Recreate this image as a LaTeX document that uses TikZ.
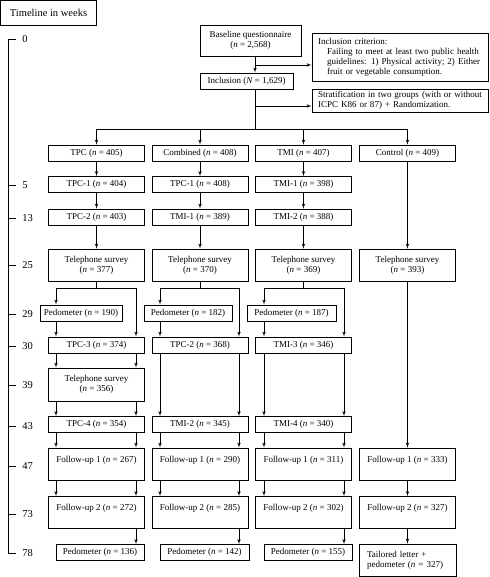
\documentclass[tikz,border=0pt]{standalone}
\usepackage{fontspec}
\setmainfont{Liberation Serif}
\usetikzlibrary{arrows,calc}
\newcommand{\nn}[1]{(\textit{n} = #1)}
\tikzset{
    block/.style = {draw, rectangle, inner sep=0pt,
        minimum height=16pt,
        minimum width=96pt, align=center, font=\fontsize{9}{10}\selectfont},
    tall/.style = {block, minimum height=32pt},
    note/.style = {draw, rectangle, inner sep=0pt, align=left, font=\fontsize{9}{10}\selectfont},
    week/.style = {anchor=west, inner sep=0pt, font=\fontsize{10.5}{12}\selectfont}
}

\begin{document}
\begin{tikzpicture}[>=latex', x=1pt, y=-1pt, line width=0.7pt]
        \useasboundingbox (0,0) rectangle (489,577);
        % timeline
        \node [block, minimum width=96pt, minimum height=25pt, font=\fontsize{10.5}{12}\selectfont] (title) at (48.5,13) {Timeline in weeks};
        \draw (16,39) -- (8,39) -- (8,553) -- (16,553);
        \draw (8,185) -- (16,185);  \draw (8,218) -- (16,218);  \draw (8,265) -- (16,265);
        \draw (8,314) -- (16,314);  \draw (8,346) -- (16,346);  \draw (8,385) -- (16,385);
        \draw (8,426) -- (16,426);  \draw (8,466) -- (16,466);  \draw (8,514) -- (16,514);
        \node [week] (w0) at (22,39) {0};
        \node [week] (w5) at (22,185) {5};
        \node [week] (w13) at (22,218) {13};
        \node [week] (w25) at (22,265) {25};
        \node [week] (w29) at (22,314) {29};
        \node [week] (w30) at (22,346) {30};
        \node [week] (w39) at (22,385) {39};
        \node [week] (w43) at (22,426) {43};
        \node [week] (w47) at (22,466) {47};
        \node [week] (w73) at (22,514) {73};
        \node [week] (w78) at (22,553) {78};
        % enrolment
        \node [block, minimum width=101pt, minimum height=31pt] (base) at (250.5,40.5) {Baseline questionnaire\\\nn{2,568}};
        \node [block, minimum width=93pt] (incl) at (246.5,81) {Inclusion (\textit{N} = 1,629)};
        \node [note, minimum width=176pt, minimum height=48pt, text width=164pt] (crit) at (400,57) {Inclusion criterion:\\
        \hspace*{9pt}Failing to meet at least two public health\\
        \hspace*{9pt}guidelines: 1) Physical activity; 2) Either\\
        \hspace*{9pt}fruit or vegetable consumption.};
        \node [note, minimum width=176pt, minimum height=23pt, text width=164pt] (strat) at (400,100.5) {Stratification in two groups (with or without\\ICPC K86 or 87) + Randomization.};
        \coordinate (trunk) at (255,0);
        \coordinate (critIn) at (255,65);
        \coordinate (stratIn) at (255,106);
        \coordinate (split) at (255,129);
        \draw [->] (base.south -| trunk) -- (incl.north -| trunk);
        \draw [->] (critIn) -- (critIn -| crit.west);
        \draw (incl.south -| trunk) -- (split);
        \draw [->] (stratIn) -- (stratIn -| strat.west);
        % groups
        \node [block] (tpc) at (96.5,153) {TPC \nn{405}};
        \node [block] (comb) at (200,153) {Combined \nn{408}};
        \node [block] (tmi) at (303.5,153) {TMI \nn{407}};
        \node [block] (ctrl) at (407.5,153) {Control \nn{409}};
        \draw (split -| tpc) -- (split -| ctrl);
        \draw [->] (split -| tpc) -- (tpc);
        \draw [->] (split -| comb) -- (comb);
        \draw [->] (split -| tmi) -- (tmi);
        \draw [->] (split -| ctrl) -- (ctrl);
        % weeks 5 and 13
        \node [block] (tpcA) at (96.5,184.5) {TPC-1 \nn{404}};
        \node [block] (combA) at (200,184.5) {TPC-1 \nn{408}};
        \node [block] (tmiA) at (303.5,184.5) {TMI-1 \nn{398}};
        \node [block] (tpcB) at (96.5,217) {TPC-2 \nn{403}};
        \node [block] (combB) at (200,217) {TMI-1 \nn{389}};
        \node [block] (tmiB) at (303.5,217) {TMI-2 \nn{388}};
        \draw [->] (tpc) -- (tpcA);   \draw [->] (tpcA) -- (tpcB);
        \draw [->] (comb) -- (combA); \draw [->] (combA) -- (combB);
        \draw [->] (tmi) -- (tmiA);   \draw [->] (tmiA) -- (tmiB);
        % week 25
        \node [tall] (tpcTel) at (96.5,265) {Telephone survey\\\nn{377}};
        \node [tall] (combTel) at (200,265) {Telephone survey\\\nn{370}};
        \node [tall] (tmiTel) at (303.5,265) {Telephone survey\\\nn{369}};
        \node [tall] (ctrlTel) at (407.5,265) {Telephone survey\\\nn{393}};
        \draw [->] (tpcB) -- (tpcTel);
        \draw [->] (combB) -- (combTel);
        \draw [->] (tmiB) -- (tmiTel);
        \draw [->] (ctrl) -- (ctrlTel);
        % weeks 29 and 30
        \node [block, minimum width=82pt] (tpcPed) at (81,313) {Pedometer \nn{190}};
        \node [block, minimum width=88pt] (combPed) at (188,313) {Pedometer \nn{182}};
        \node [block, minimum width=89pt] (tmiPed) at (291.5,313) {Pedometer \nn{187}};
        \node [block] (tpcC) at (96.5,345) {TPC-3 \nn{374}};
        \node [block] (combC) at (200,345) {TPC-2 \nn{368}};
        \node [block] (tmiC) at (303.5,345) {TMI-3 \nn{346}};
        \coordinate (fork) at (0,288);
        \coordinate (aL) at (56,0);  \coordinate (aR) at (136,0);
        \coordinate (bL) at (160,0); \coordinate (bR) at (239,0);
        \coordinate (cL) at (264,0); \coordinate (cR) at (344,0);
        \draw [->] (tpcTel.south) -- (tpcTel.south |- fork) -| (tpcPed.north -| aL);
        \draw [->] (tpcTel.south |- fork) -| (tpcC.north -| aR);
        \draw [->] (tpcPed.south -| aL) -- (tpcC.north -| aL);
        \draw [->] (combTel.south) -- (combTel.south |- fork) -| (combPed.north -| bL);
        \draw [->] (combTel.south |- fork) -| (combC.north -| bR);
        \draw [->] (combPed.south -| bL) -- (combC.north -| bL);
        \draw [->] (tmiTel.south) -- (tmiTel.south |- fork) -| (tmiPed.north -| cL);
        \draw [->] (tmiTel.south |- fork) -| (tmiC.north -| cR);
        \draw [->] (tmiPed.south -| cL) -- (tmiC.north -| cL);
        % weeks 39 and 43
        \node [block, minimum height=33pt] (tpcTel2) at (96.5,384.5) {Telephone survey\\\nn{356}};
        \node [block] (tpcD) at (96.5,424.5) {TPC-4 \nn{354}};
        \node [block] (combD) at (200,424.5) {TMI-2 \nn{345}};
        \node [block] (tmiD) at (303.5,424.5) {TMI-4 \nn{340}};
        \draw [->] (tpcC.south -| aL) -- (tpcTel2.north -| aL);  \draw [->] (tpcC.south -| aR) -- (tpcTel2.north -| aR);
        \draw [->] (tpcTel2.south -| aL) -- (tpcD.north -| aL);  \draw [->] (tpcTel2.south -| aR) -- (tpcD.north -| aR);
        \draw [->] (combC.south -| bL) -- (combD.north -| bL);   \draw [->] (combC.south -| bR) -- (combD.north -| bR);
        \draw [->] (tmiC.south -| cL) -- (tmiD.north -| cL);     \draw [->] (tmiC.south -| cR) -- (tmiD.north -| cR);
        % follow-up
        \node [tall] (tpcFu1) at (96.5,464) {Follow-up 1 \nn{267}\\\mbox{}};
        \node [tall] (combFu1) at (200,464) {Follow-up 1 \nn{290}\\\mbox{}};
        \node [tall] (tmiFu1) at (303.5,464) {Follow-up 1 \nn{311}\\\mbox{}};
        \node [tall] (ctrlFu1) at (407.5,464) {Follow-up 1 \nn{333}\\\mbox{}};
        \node [tall] (tpcFu2) at (96.5,512.5) {Follow-up 2 \nn{272}\\\mbox{}};
        \node [tall] (combFu2) at (200,512.5) {Follow-up 2 \nn{285}\\\mbox{}};
        \node [tall] (tmiFu2) at (303.5,512.5) {Follow-up 2 \nn{302}\\\mbox{}};
        \node [tall] (ctrlFu2) at (407.5,512.5) {Follow-up 2 \nn{327}\\\mbox{}};
        \draw [->] (tpcD.south -| aL) -- (tpcFu1.north -| aL);   \draw [->] (tpcD.south -| aR) -- (tpcFu1.north -| aR);
        \draw [->] (combD.south -| bL) -- (combFu1.north -| bL); \draw [->] (combD.south -| bR) -- (combFu1.north -| bR);
        \draw [->] (tmiD.south -| cL) -- (tmiFu1.north -| cL);   \draw [->] (tmiD.south -| cR) -- (tmiFu1.north -| cR);
        \draw [->] (ctrlTel) -- (ctrlFu1);
        \draw [->] (tpcFu1.south -| aL) -- (tpcFu2.north -| aL);   \draw [->] (tpcFu1.south -| aR) -- (tpcFu2.north -| aR);
        \draw [->] (combFu1.south -| bL) -- (combFu2.north -| bL); \draw [->] (combFu1.south -| bR) -- (combFu2.north -| bR);
        \draw [->] (tmiFu1.south -| cL) -- (tmiFu2.north -| cL);   \draw [->] (tmiFu1.south -| cR) -- (tmiFu2.north -| cR);
        \draw [->] (ctrlFu1) -- (ctrlFu2);
        % week 78
        \node [block, minimum width=88pt] (tpcEnd) at (100,552.5) {Pedometer \nn{136}};
        \node [block, minimum width=89pt] (combEnd) at (204.5,552.5) {Pedometer \nn{142}};
        \node [block, minimum width=88pt] (tmiEnd) at (308,552.5) {Pedometer \nn{155}};
        \node [note, minimum width=97pt, minimum height=32pt, text width=81pt] (ctrlEnd) at (407.5,560) {Tailored letter +\\pedometer \nn{327}};
        \draw [->] (tpcFu2.south -| aR) -- (tpcEnd.north -| aR);
        \draw [->] (combFu2.south -| bR) -- (combEnd.north -| bR);
        \draw [->] (tmiFu2.south -| cR) -- (tmiEnd.north -| cR);
        \draw [->] (ctrlFu2) -- (ctrlEnd);
\end{tikzpicture}
\end{document}
